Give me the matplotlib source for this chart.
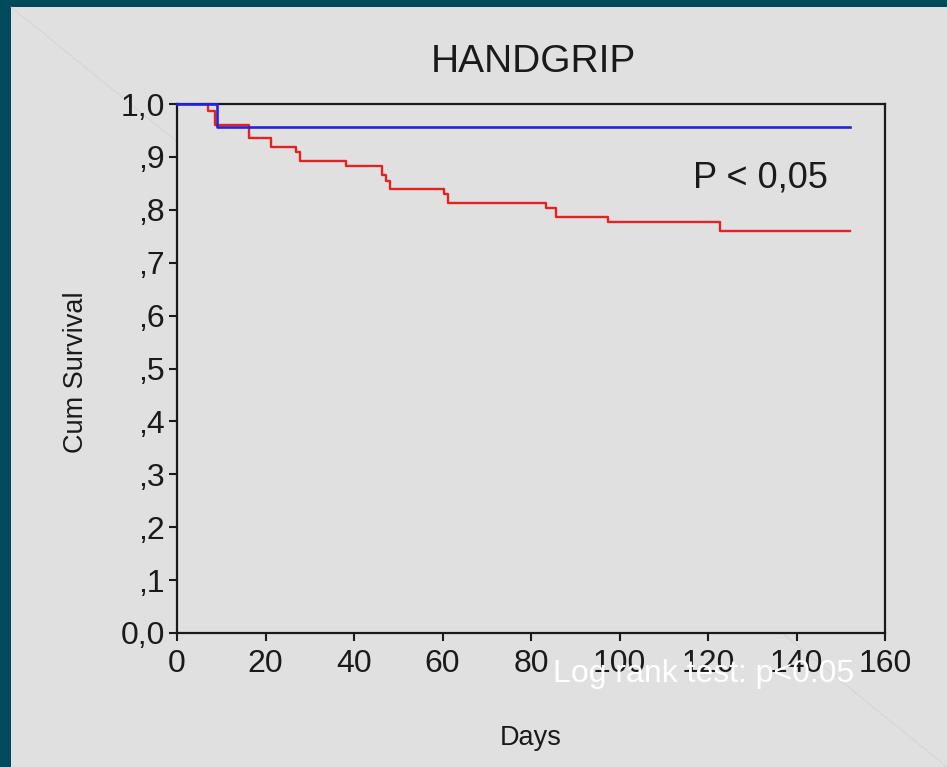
import matplotlib
matplotlib.use("Agg")
import matplotlib.pyplot as plt
from matplotlib.patches import Rectangle
from matplotlib.lines import Line2D

plt.rcParams['font.family'] = ['Liberation Sans', 'DejaVu Sans']

# Data
red_days = [7, 7, 8.7, 16.3, 21.2, 27.0, 27.9, 38.3, 46.4, 47.3, 48.1, 60.3, 61.2,
            83.4, 85.6, 97.3, 122.6, 152.0]
red_surv = [1.0, 0.987, 0.960, 0.935, 0.919, 0.909, 0.893, 0.882, 0.866, 0.855,
            0.840, 0.829, 0.813, 0.803, 0.787, 0.776, 0.760, 0.760]
blue_days = [0, 9.0, 152.0]
blue_surv = [1.0, 0.957, 0.957]
x_ticks = [0, 20, 40, 60, 80, 100, 120, 140, 160]
y_ticks = [0.0, 0.1, 0.2, 0.3, 0.4, 0.5, 0.6, 0.7, 0.8, 0.9, 1.0]
y_tick_labels = ['0,0', ',1', ',2', ',3', ',4', ',5', ',6', ',7', ',8', ',9', '1,0']

W, H = 947, 767
bg = '#e0e0e0'
teal = '#004a5c'
fig = plt.figure(figsize=(W / 100, H / 100), dpi=100, facecolor=teal)

# grey panel
fig.patches.append(Rectangle((11 / W, 0), 1 - 11 / W, 1 - 7 / H, transform=fig.transFigure,
                             facecolor=bg, edgecolor='none', zorder=0))
# faint diagonal decoration
fig.lines.append(Line2D([11 / W, 1], [1 - 7 / H, 0], transform=fig.transFigure,
                        color='#d3d3d3', linewidth=0.6, zorder=0.5))

ax = fig.add_axes([177 / W, (H - 633) / H, 708 / W, 529 / H])
ax.set_facecolor(bg)
ax.set_zorder(1)

ax.step(red_days, red_surv, where='post', color='#e42222', linewidth=1.7, clip_on=False, zorder=3)
ax.step(blue_days, blue_surv, where='post', color='#2222e0', linewidth=1.9, clip_on=False, zorder=4)

ax.set_xlim(0, 160)
ax.set_ylim(0, 1.0)
ax.set_xticks(x_ticks)
ax.set_xticklabels([str(t) for t in x_ticks])
ax.set_yticks(y_ticks)
ax.set_yticklabels(y_tick_labels)
ax.tick_params(axis='both', direction='out', length=5.5, width=1.5, labelsize=23,
               colors='#1a1a1a')
ax.tick_params(axis='x', pad=6)
ax.tick_params(axis='y', pad=3)
for s in ax.spines.values():
    s.set_linewidth(1.6)
    s.set_color('#1a1a1a')

fig.text(533 / W, 1 - 72 / H, 'HANDGRIP', fontsize=28, color='#1a1a1a',
         ha='center', va='baseline')
fig.text(76 / W, 1 - 372 / H, 'Cum Survival', fontsize=19.5, color='#1a1a1a',
         ha='center', va='center', rotation=90)
fig.text(531 / W, 1 - 738 / H, 'Days', fontsize=19.5, color='#1a1a1a', ha='center', va='center')

ax.text(693 / W, 1 - 188 / H, 'P < 0,05', transform=fig.transFigure, fontsize=26,
        color='#1a1a1a', ha='left', va='baseline')

fig.text(553 / W, 1 - 682 / H, 'Log rank test: p<0.05', fontsize=23, color='white',
         ha='left', va='baseline', zorder=10)

fig.savefig('out.png', dpi=100, facecolor=teal)
